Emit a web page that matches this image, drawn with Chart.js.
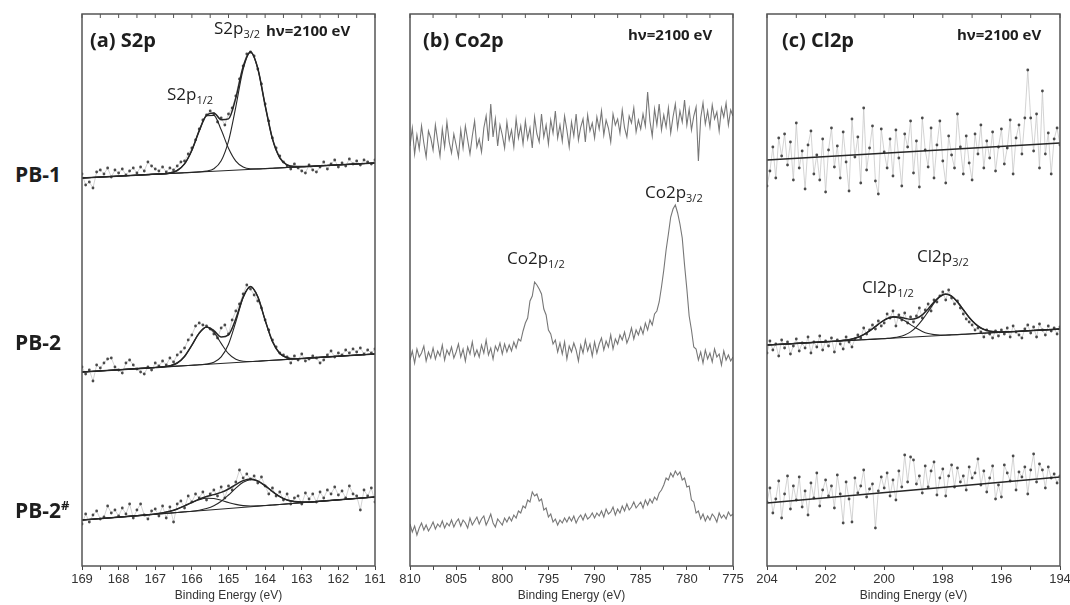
<!DOCTYPE html>
<html>
<head>
<meta charset="utf-8">
<script src="https://cdn.jsdelivr.net/npm/chart.js@4.4.0/dist/chart.umd.min.js"></script>
<style>
body { margin: 0; background: #fff; width: 1070px; height: 605px; overflow: hidden; position: relative; font-family: "Open Sans", sans-serif; color: #1e1e1e; }
canvas { position: absolute; top: 0; }
.lbl { position: absolute; white-space: nowrap; line-height: 1; }
.row { font-weight: 700; font-size: 21px; }
.ttl { font-weight: 700; font-size: 20px; }
.hv { font-weight: 700; font-size: 15px; }
.pk { font-size: 17px; }
.pk sub { font-size: 11px; vertical-align: -4px; }
.row sup { font-size: 13px; vertical-align: 8px; }
</style>
</head>
<body>
<canvas id="panelA" width="333" height="605" style="left:62px"></canvas>
<canvas id="panelB" width="363" height="605" style="left:390px"></canvas>
<canvas id="panelC" width="333" height="605" style="left:747px"></canvas>

<div class="lbl row" style="left:15px;top:164px">PB-1</div>
<div class="lbl row" style="left:15px;top:332px">PB-2</div>
<div class="lbl row" style="left:15px;top:499px">PB-2<sup>#</sup></div>

<div class="lbl ttl" style="left:90px;top:30px">(a) S2p</div>
<div class="lbl ttl" style="left:423px;top:30px">(b) Co2p</div>
<div class="lbl ttl" style="left:782px;top:30px">(c) Cl2p</div>
<div class="lbl hv" style="left:266px;top:23px">hν=2100 eV</div>
<div class="lbl hv" style="left:628px;top:27px">hν=2100 eV</div>
<div class="lbl hv" style="left:957px;top:27px">hν=2100 eV</div>

<div class="lbl pk" style="left:214px;top:19px">S2p<sub>3/2</sub></div>
<div class="lbl pk" style="left:167px;top:85px">S2p<sub>1/2</sub></div>
<div class="lbl pk" style="left:507px;top:249px">Co2p<sub>1/2</sub></div>
<div class="lbl pk" style="left:645px;top:183px">Co2p<sub>3/2</sub></div>
<div class="lbl pk" style="left:862px;top:278px">Cl2p<sub>1/2</sub></div>
<div class="lbl pk" style="left:917px;top:247px">Cl2p<sub>3/2</sub></div>

<script>
// intensities are in plot units (0..552, stacked offsets already included)

// ---- (a) S2p : measured points, 169.0 -> 161.0 eV every 0.1 eV
const s2pPB1 = [
  392, 381, 384, 378, 394, 396, 392, 398, 389, 396,
  393, 397, 391, 395, 398, 393, 399, 395, 404, 400,
  397, 395, 399, 394, 398, 396, 400, 404, 405, 412,
  418, 426, 437, 446, 451, 455, 452, 444, 448, 441,
  452, 458, 470, 487, 500, 512, 514, 510, 497, 482,
  462, 445, 428, 418, 410, 404, 400, 397, 402, 398,
  395, 393, 401, 396, 394, 399, 404, 397, 402, 406,
  399, 403, 400, 407, 402, 405, 401, 406, 404, 402,
  406
];
const s2pPB2 = [
  199, 192, 196, 185, 201, 198, 203, 207, 208, 199,
  196, 193, 203, 206, 201, 197, 194, 192, 199, 196,
  203, 200, 205, 201, 208, 204, 211, 214, 218, 226,
  231, 240, 243, 241, 240, 237, 232, 228, 238, 241,
  232, 246, 255, 262, 272, 281, 277, 271, 265, 258,
  246, 236, 226, 219, 213, 211, 209, 203, 210, 206,
  212, 205, 207, 210, 208, 203, 206, 211, 215, 209,
  213, 211, 216, 213, 217, 214, 218, 212, 216, 213,
  217
];
const s2pPB2h = [
  42, 52, 44, 51, 55, 47, 49, 60, 53, 56,
  50, 58, 52, 62, 48, 56, 62, 51, 47, 55,
  57, 50, 60, 48, 59, 44, 62, 65, 58, 70,
  64, 72, 68, 74, 66, 72, 76, 70, 79, 68,
  80, 76, 84, 96, 88, 92, 87, 90, 83, 89,
  80, 72, 78, 70, 74, 66, 72, 62, 68, 70,
  62, 73, 67, 72, 64, 74, 68, 76, 72, 79,
  71, 75, 68, 80, 72, 70, 56, 76, 70, 78,
  64
];

// (a) S2p fitted curves
const s2pFitE = [169, 167.4, 167.2, 167.0, 166.8, 166.6, 166.4, 166.2, 166.0, 165.8, 165.6, 165.4, 165.2,
  165.0, 164.8, 164.6, 164.4, 164.2, 164.0, 163.8, 163.6, 163.4, 163.2, 163.0, 162.8, 162.6, 161];
const s2pEnvPB1 = [388, 391.0, 391.4, 392, 392, 393, 395.5, 402.1, 415.8, 435.1, 450.7, 453.1, 446.3,
  447.1, 468.1, 499.3, 514.2, 497.5, 460.7, 427.1, 408.2, 401, 399.4, 399.4, 399.6, 400.0, 403];
const s2pHalfPB1 = [388, 391.0, 391.4, 391.8, 392.2, 393.1, 395.5, 402.2, 415.8, 435.1, 450.2, 450.6, 436.2,
  417.7, 404.8, 398.9, 397.2, 397.1, 397.4, 397.75, 398.1, 398.5, 398.9, 399.25, 399.6, 400.0, 403];
const s2pThreePB1 = [388, 391.0, 391.4, 391.75, 392.1, 392.5, 392.9, 393.25, 393.6, 394.1, 394.9, 397.3, 405.2,
  424.9, 459.2, 496.7, 513.6, 497.4, 460.7, 427.1, 408.2, 401.0, 399.4, 399.3, 399.6, 400.0, 403];
const s2pEnvPB2 = [194, 197.6, 198.05, 198.5, 199.1, 200.2, 203.0, 209.6, 220.8, 232.9, 239.0, 235.4, 229.0,
  231.1, 247.2, 269.1, 279.5, 269.2, 245.8, 224.5, 212.6, 208.2, 207.3, 207.5, 207.95, 208.4, 212];
const s2pHalfPB2 = [194, 197.6, 198.05, 198.5, 199.1, 200.2, 203.0, 209.6, 220.8, 232.9, 238.7, 233.8, 222.6,
  212.3, 206.7, 204.7, 204.5, 204.8, 205.25, 205.7, 206.15, 206.6, 207.05, 207.5, 207.95, 208.4, 212];
const s2pThreePB2 = [194, 197.6, 198.05, 198.5, 198.95, 199.4, 199.85, 200.3, 200.75, 201.2, 201.9, 203.7, 209.1,
  221.8, 244.1, 268.3, 279.4, 269.2, 245.8, 224.5, 212.6, 208.2, 207.3, 207.5, 207.95, 208.4, 212];
const s2pEnvPB2h = [46, 50.6, 51.3, 52.0, 53.1, 54.7, 57.0, 60.15, 63.6, 66.9, 69.5, 71.4, 73.6,
  77.0, 81.4, 85.4, 87.0, 85.1, 80.3, 74.5, 69.4, 66.0, 64.4, 63.9, 64.0, 64.45, 69];
const s2pHalfPB2h = [46, 50.6, 51.3, 52.0, 53.1, 54.7, 57.0, 60.1, 63.4, 66.3, 67.8, 67.5, 65.7,
  63.5, 61.6, 60.4, 60.0, 60.1, 60.5, 61.0, 61.5, 62.1, 62.7, 63.25, 63.8, 64.4, 69];
const s2pThreePB2h = [46, 50.6, 51.2, 51.75, 52.3, 52.9, 53.5, 54.2, 54.8, 55.8, 57.5, 60.3, 64.8,
  71.0, 77.9, 83.7, 86.3, 84.8, 80.2, 74.5, 69.4, 66.0, 64.4, 63.9, 64.0, 64.45, 69];
const s2pBaseE = [169, 161];
const s2pBasePB1 = [388, 403];
const s2pBasePB2 = [194, 212];
const s2pBasePB2h = [46, 69];

// ---- (b) Co2p : 810 -> 775 eV every 0.25 eV
const coPB1 = [
  420, 438, 412, 431, 417, 440, 423, 409, 435, 428,
  416, 441, 425, 410, 437, 419, 444, 424, 413, 432,
  421, 409, 436, 418, 440, 426, 412, 430, 445, 419,
  427, 414, 438, 450, 425, 462, 429, 447, 420, 441,
  431, 418, 444, 426, 436, 419, 447, 428, 440, 422,
  445, 427, 438, 418, 449, 432, 424, 452, 429, 441,
  422, 446, 433, 455, 428, 441, 425, 450, 436, 419,
  444, 430, 452, 426, 439, 447, 424, 451, 435, 443,
  428, 449, 437, 455, 431, 446, 438, 424, 452, 441,
  447, 433, 456, 438, 429, 450, 443, 458, 434, 446,
  437, 452, 440, 474, 445, 430, 457, 441, 462, 436,
  451, 439, 458, 433, 449, 462, 438, 455, 444, 466,
  441, 457, 436, 450, 459, 405, 448, 463, 442, 455,
  439, 461, 447, 454, 435, 458, 449, 463, 441, 456,
  450
];
const coPB2 = [
  206, 215, 203, 217, 209, 213, 220, 205, 214, 208,
  218, 207, 215, 210, 221, 206, 216, 211, 219, 208,
  214, 222, 209, 217, 205, 219, 212, 224, 210, 216,
  209, 221, 213, 226, 211, 218, 207, 220, 215, 223,
  212, 222, 214, 221, 215, 224, 218, 227, 225, 235,
  243, 248, 265, 270, 284, 281, 277, 272, 257, 251,
  236, 232, 222, 226, 214, 223, 212, 224, 207, 220,
  214, 223, 216, 205, 221, 213, 226, 215, 222, 210,
  224, 213, 222, 228, 216, 225, 219, 231, 217, 227,
  222, 231, 226, 234, 223, 229, 238, 227, 236, 231,
  239, 232, 243, 236, 246, 241, 252, 255, 264, 279,
  296, 316, 332, 349, 357, 361, 353, 342, 328, 301,
  277, 250, 236, 219, 217, 206, 214, 203, 216, 207,
  213, 204, 217, 209, 212, 201, 215, 206, 211, 205,
  209
];
const coPB2h = [
  42, 34, 40, 31, 38, 43, 36, 41, 35, 39,
  44, 37, 42, 39, 45, 38, 43, 40, 46, 39,
  44, 47, 40, 46, 43, 38, 48, 41, 45, 49,
  42, 47, 50, 41, 46, 52, 43, 39, 47, 44,
  41, 48, 44, 49, 45, 51, 48, 55, 53, 60,
  58, 66, 64, 74, 70, 72, 65, 67, 56, 58,
  49, 52, 44, 47, 41, 46, 43, 48, 44, 49,
  45, 50, 43, 48, 51, 46, 52, 47, 49, 53,
  48, 53, 50, 55, 49, 57, 52, 54, 59, 51,
  57, 53, 60, 55, 62, 56, 59, 64, 58, 61,
  64, 58, 66, 61, 67, 63, 69, 66, 73, 76,
  81, 88, 86, 93, 89, 95, 91, 94, 86, 88,
  79, 80, 66, 64, 53, 55, 47, 52, 45, 50,
  46, 52, 49, 44, 53, 48, 51, 47, 54, 50,
  52
];

// ---- (c) Cl2p : 204.0 -> 194.0 eV every 0.1 eV
const clPB1 = [
  380, 395, 419, 388, 428, 410, 432, 401, 424, 386,
  443, 398, 415, 377, 421, 435, 392, 411, 386, 427,
  374, 416, 438, 399, 420, 388, 434, 404, 375, 447,
  409, 429, 383, 458, 396, 418, 440, 385, 372, 437,
  414, 398, 427, 390, 436, 408, 380, 432, 419, 445,
  393, 425, 379, 448, 416, 399, 438, 388, 421, 445,
  405, 383, 430, 411, 398, 452, 419, 392, 430, 403,
  386, 432, 412, 441, 398, 425, 408, 434, 395, 419,
  437, 402, 418, 446, 392, 428, 441, 412, 448, 496,
  448, 415, 452, 398, 475, 412, 433, 392, 427, 438,
  421
];
const clPB2 = [
  213, 225, 216, 222, 210, 226, 218, 224, 212, 220,
  227, 215, 223, 218, 229, 213, 224, 219, 230, 216,
  225, 220, 228, 214, 226, 222, 217, 229, 224, 219,
  227, 231, 228, 238, 232, 236, 241, 237, 245, 240,
  243, 252, 248, 255, 240, 251, 246, 253, 243, 249,
  244, 250, 258, 248, 256, 262, 255, 266, 264, 270,
  274, 266, 276, 268, 262, 265, 258, 252, 247, 244,
  241, 236, 238, 234, 229, 236, 232, 228, 235, 230,
  236, 232, 238, 229, 240, 234, 231, 228, 237, 241,
  233, 239, 229, 242, 236, 231, 240, 235, 238, 232,
  239
];
const clPB2h = [
  64, 78, 53, 67, 85, 48, 72, 90, 57, 80,
  66, 89, 59, 75, 51, 83, 68, 93, 60, 76,
  86, 70, 80, 58, 91, 72, 43, 84, 67, 44,
  88, 73, 80, 96, 69, 77, 82, 38, 75, 89,
  78, 93, 70, 86, 66, 95, 79, 111, 84, 109,
  106, 82, 90, 73, 100, 79, 95, 104, 71, 88,
  97, 70, 90, 101, 79, 98, 84, 90, 76, 99,
  88, 93, 107, 81, 95, 74, 88, 100, 67, 81,
  69, 101, 93, 85, 110, 76, 94, 89, 99, 72,
  96, 112, 84, 102, 96, 78, 99, 88, 92, 83,
  90
];

// (c) Cl2p fitted curves (PB-2 only)
const clFitE = [204, 201.9, 201.7, 201.5, 201.3, 201.1, 200.9, 200.7, 200.5, 200.3, 200.1, 199.9, 199.7,
  199.5, 199.3, 199.1, 198.9, 198.7, 198.5, 198.3, 198.1, 197.9, 197.7, 197.5, 197.3, 197.1, 196.9,
  196.7, 196.5, 196.3, 196.1, 195.9, 195.7, 194];
const clEnvPB2 = [221, 224.4, 224.75, 225.2, 225.9, 226.9, 228.7, 231.4, 235.1, 239.5, 244.0, 247.5, 249.3,
  249.1, 247.8, 246.7, 247.7, 251.2, 257.1, 264.1, 269.7, 272.0, 269.9, 264.1, 256.3, 248.6, 242.4,
  238.0, 235.6, 234.4, 234.0, 234.1, 234.3, 237];
const clHalfPB2 = [221, 224.4, 224.75, 225.2, 225.9, 226.9, 228.7, 231.4, 235.1, 239.5, 243.9, 247.3, 248.9,
  248.0, 245.2, 241.4, 237.7, 234.6, 232.5, 231.4, 231.0, 231.0, 231.2, 231.4, 231.7, 232.0, 232.4,
  232.7, 233.0, 233.3, 233.6, 234.0, 234.3, 237];
const clThreePB2 = [221, 224.36, 224.68, 225.0, 225.3, 225.6, 226.0, 226.3, 226.6, 226.9, 227.2, 227.6, 228.3,
  229.3, 231.1, 234.1, 239.2, 246.1, 254.4, 262.8, 269.1, 271.8, 269.8, 264.1, 256.3, 248.6, 242.4,
  238.0, 235.6, 234.4, 234.0, 234.1, 234.3, 237];
const clBaseE = [204, 194];
const clBasePB1 = [406, 423];
const clBasePB2 = [221, 237];
const clBasePB2h = [63, 89];

// --------------------------------------------------------------

function energies(from, to, step) {
    const out = [];
    const n = Math.round((from - to) / step);
    for (let i = 0; i <= n; i++) out.push(+(from - i * step).toFixed(2));
    return out;
}

function pts(xs, ys) {
    return ys.map((y, i) => ({ x: xs[i], y: y }));
}

function measured(xs, ys) {
    return {
        data: pts(xs, ys), order: 3,
        borderColor: "#c8c8c8", borderWidth: 0.8,
        pointRadius: 1.4, pointBackgroundColor: "#4a4a4a", pointBorderWidth: 0
    };
}

function fit(xs, ys, w) {
    return {
        data: pts(xs, ys), order: 1,
        borderColor: "#262626", borderWidth: w || 1.1,
        pointRadius: 0, cubicInterpolationMode: "monotone"
    };
}

function trace(xs, ys) {
    return {
        data: pts(xs, ys), order: 2,
        borderColor: "#777", borderWidth: 1.1, pointRadius: 0
    };
}

const frame = {
    id: "frame",
    afterDraw(chart) {
        const { ctx, chartArea: a, scales: { x } } = chart;
        ctx.save();
        ctx.strokeStyle = "#555";
        ctx.lineWidth = 1.5;
        ctx.strokeRect(a.left, a.top, a.right - a.left, a.bottom - a.top);
        ctx.lineWidth = 1;
        x.ticks.forEach(t => {
            const px = x.getPixelForValue(t.value);
            ctx.beginPath();
            ctx.moveTo(px, a.top);
            ctx.lineTo(px, a.top + 4);
            ctx.stroke();
        });
        ctx.restore();
    }
};

function panel(id, xmin, xmax, step, labelEvery, datasets) {
    new Chart(document.getElementById(id), {
        type: "line",
        data: { datasets: datasets },
        options: {
            responsive: false,
            animation: false,
            events: [],
            layout: { padding: { top: 14, left: 20, right: 20, bottom: 1 } },
            plugins: { legend: { display: false }, tooltip: { enabled: false } },
            scales: {
                x: {
                    type: "linear", reverse: true, min: xmin, max: xmax,
                    afterFit: s => { s.height = 38; },
                    border: { display: false },
                    grid: { drawOnChartArea: false, drawTicks: true, tickLength: 4, tickColor: "#444" },
                    ticks: {
                        stepSize: step, autoSkip: false, maxRotation: 0, padding: 2,
                        color: "#333", font: { family: "Liberation Sans, Arial", size: 13 },
                        callback: v => Math.abs(v / labelEvery - Math.round(v / labelEvery)) < 1e-6 ? v : ""
                    },
                    title: {
                        display: true, text: "Binding Energy (eV)", color: "#333",
                        font: { family: "Liberation Sans, Arial", size: 12 },
                        padding: { top: 0, bottom: 1 }
                    }
                },
                y: { display: false, min: 0, max: 552 }
            }
        },
        plugins: [frame]
    });
}

const s2pE = energies(169, 161, 0.1);
const coE = energies(810, 775, 0.25);
const clE = energies(204, 194, 0.1);

panel("panelA", 161, 169, 0.5, 1, [
    fit(s2pFitE, s2pEnvPB1, 1.5), fit(s2pFitE, s2pHalfPB1), fit(s2pFitE, s2pThreePB1), fit(s2pBaseE, s2pBasePB1),
    fit(s2pFitE, s2pEnvPB2, 1.5), fit(s2pFitE, s2pHalfPB2), fit(s2pFitE, s2pThreePB2), fit(s2pBaseE, s2pBasePB2),
    fit(s2pFitE, s2pEnvPB2h, 1.5), fit(s2pFitE, s2pHalfPB2h), fit(s2pFitE, s2pThreePB2h), fit(s2pBaseE, s2pBasePB2h),
    measured(s2pE, s2pPB1), measured(s2pE, s2pPB2), measured(s2pE, s2pPB2h)
]);

panel("panelB", 775, 810, 2.5, 5, [
    trace(coE, coPB1), trace(coE, coPB2), trace(coE, coPB2h)
]);

panel("panelC", 194, 204, 1, 2, [
    fit(clBaseE, clBasePB1, 1.5),
    fit(clFitE, clEnvPB2, 1.5), fit(clFitE, clHalfPB2), fit(clFitE, clThreePB2), fit(clBaseE, clBasePB2),
    fit(clBaseE, clBasePB2h, 1.5),
    measured(clE, clPB1), measured(clE, clPB2), measured(clE, clPB2h)
]);
</script>
</body>
</html>
